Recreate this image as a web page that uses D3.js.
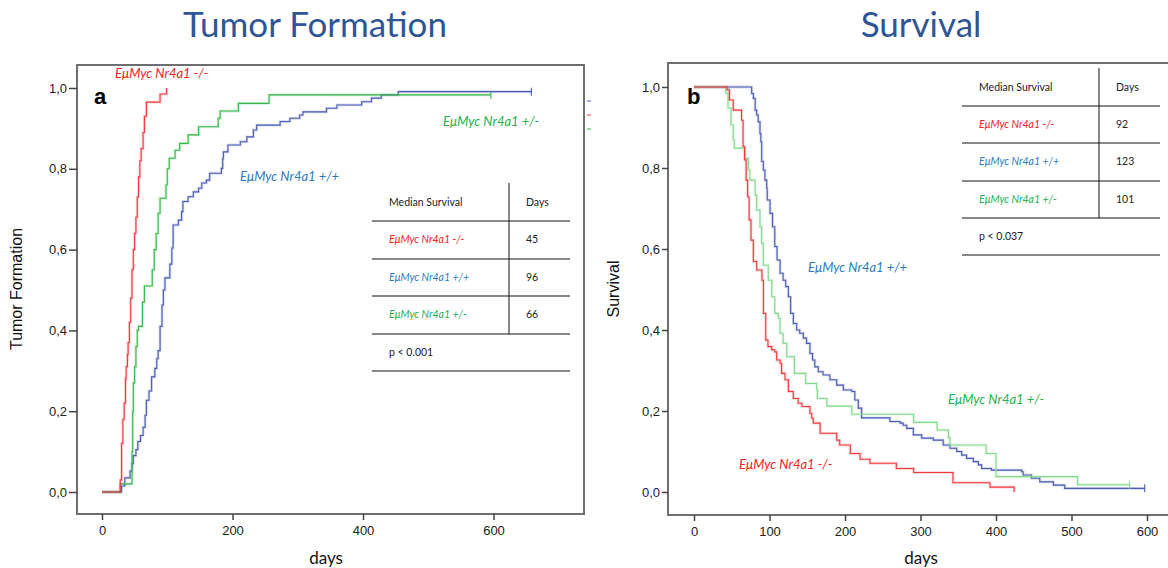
<!DOCTYPE html>
<html><head><meta charset="utf-8">
<script src="https://cdn.jsdelivr.net/npm/d3@7"></script>
<style>body{margin:0;background:#fff}svg{display:block}</style>
</head><body>
<script>
// ---------- data ----------
const genotypes = ["EμMyc Nr4a1 -/-", "EμMyc Nr4a1 +/+", "EμMyc Nr4a1 +/-"];
const tfMedians = [45, 96, 66];
const survMedians = [92, 123, 101];
const tfP = "p < 0.001";
const survP = "p < 0.037";
const yTicks = [0, 0.2, 0.4, 0.6, 0.8, 1.0];
const xTicksTF = [0, 200, 400, 600];
const xTicksSurv = [0, 100, 200, 300, 400, 500, 600];

// Tumor formation (cumulative incidence) step data: [day, value]
const tfRed = [[0,0],[28,0.03],[30,0.12],[32,0.18],[34,0.22],[36,0.28],[37,0.31],[39,0.34],[40,0.37],[42,0.42],[44,0.48],[46,0.55],[48,0.60],[50,0.64],[52,0.68],[54,0.73],[56,0.78],[58,0.82],[60,0.85],[63,0.89],[65,0.93],[68,0.965],[89,0.985],[99,1.0]];
const tfGreen = [[0,0],[28,0.02],[46,0.10],[47,0.20],[48,0.27],[50,0.31],[52,0.36],[54,0.40],[56,0.41],[62,0.47],[65,0.51],[77,0.55],[80,0.60],[83,0.64],[86,0.69],[89,0.727],[98,0.76],[100,0.80],[103,0.826],[112,0.846],[119,0.863],[132,0.884],[148,0.904],[178,0.925],[181,0.943],[209,0.962],[256,0.983],[596,0.983]];
const tfBlue = [[0,0],[30,0.015],[35,0.035],[43,0.052],[46,0.07],[48,0.09],[52,0.105],[55,0.125],[59,0.14],[63,0.16],[66,0.19],[68,0.227],[72,0.25],[76,0.285],[81,0.306],[84,0.33],[86,0.35],[89,0.41],[92,0.463],[94,0.5],[96.5,0.53],[104,0.564],[107,0.604],[109,0.661],[117,0.673],[122,0.694],[124,0.719],[132,0.731],[140,0.743],[148,0.752],[153,0.765],[160,0.772],[165,0.789],[183,0.801],[185,0.825],[186,0.842],[193,0.859],[212,0.867],[222,0.879],[232,0.896],[237,0.908],[273,0.917],[288,0.925],[303,0.933],[308,0.941],[344,0.95],[360,0.958],[398,0.966],[413,0.975],[428,0.983],[454,0.991],[658,0.991]];

// Survival step data: [day, value]
const survRed = [[0,1],[42,1],[44,0.993],[47,0.968],[52,0.943],[63,0.918],[65,0.853],[67,0.82],[69,0.77],[71,0.729],[73,0.672],[75.5,0.622],[78.6,0.569],[83,0.548],[90,0.523],[92,0.441],[95,0.375],[98,0.359],[103,0.351],[107,0.346],[109.5,0.326],[114,0.318],[116,0.293],[120.5,0.277],[125,0.248],[131.5,0.231],[138,0.219],[143,0.211],[153.6,0.194],[156,0.182],[158,0.17],[167,0.145],[189,0.128],[193,0.116],[207,0.095],[220,0.081],[233,0.071],[268,0.058],[291,0.048],[343,0.023],[392,0.012],[424,0]];
const survGreen = [[0,1],[42,0.985],[45,0.948],[49,0.906],[52,0.869],[53.4,0.849],[67.5,0.824],[72,0.795],[74,0.770],[81,0.733],[83,0.696],[87.4,0.655],[89.6,0.614],[91.8,0.560],[98.4,0.523],[103,0.482],[107,0.441],[111.7,0.429],[114,0.392],[118,0.367],[122.8,0.334],[133,0.293],[148,0.268],[162.5,0.252],[163.5,0.231],[176,0.212],[209,0.192],[291,0.172],[322,0.153],[337,0.135],[339,0.116],[387,0.095],[400,0.038],[508,0.018],[577,0.018]];
const survBlue = [[0,1],[74,1],[76.4,0.984],[78.6,0.972],[81,0.943],[83,0.931],[85,0.914],[87.4,0.885],[88.5,0.865],[89.7,0.816],[91.8,0.795],[94,0.770],[96.3,0.75],[97,0.721],[100.7,0.688],[104,0.655],[107,0.606],[110,0.573],[114,0.54],[118,0.523],[121.5,0.507],[125,0.482],[128,0.441],[131.6,0.416],[136,0.4],[140,0.392],[144.8,0.38],[149,0.367],[153.6,0.342],[157,0.326],[160,0.309],[164.6,0.297],[171,0.289],[180,0.277],[189,0.264],[197.8,0.252],[209,0.248],[213,0.227],[217.6,0.207],[222,0.183],[259.6,0.174],[273,0.17],[277,0.165],[281.7,0.157],[290.5,0.141],[301.6,0.133],[317,0.128],[330,0.116],[339,0.108],[348,0.1],[354.5,0.091],[361,0.083],[370,0.075],[376.6,0.067],[381,0.058],[394,0.054],[434,0.05],[436,0.042],[447,0.034],[458,0.025],[476,0.017],[491,0.009],[597,0.009]];

// ---------- styles ----------
const C = {
  title: "#2f5597",
  redLine: "#ee3a42", greenLine: "#35b84a", greenLineR: "#84d98c", blueLine: "#4b5bb4",
  redLab: "#f52222", greenLab: "#1fb050", blueLab: "#2e7ac2",
  frame: "#6e6e6e"
};
const sansA = "'Liberation Sans', Arial, sans-serif";
const sansC = "Lato, 'Open Sans', sans-serif";

const W = 1168, H = 568;
const svg = d3.select("body").append("svg").attr("width", W).attr("height", H);

function panel(o) {
  const g = svg.append("g");
  const x = d3.scaleLinear().domain([0, 600]).range(o.xr);
  const y = d3.scaleLinear().domain([0, 1]).range(o.yr);
  // frame
  g.append("rect").attr("x", o.frame[0]).attr("y", o.frame[1])
    .attr("width", o.frame[2] - o.frame[0]).attr("height", o.frame[3] - o.frame[1])
    .attr("fill", "none").attr("stroke", C.frame).attr("stroke-width", 2);
  // y axis
  const ya = g.append("g").attr("transform", `translate(${o.frame[0]},0)`)
    .call(d3.axisLeft(y).tickValues(yTicks).tickSize(o.ytick).tickPadding(2)
      .tickFormat(d => d3.format(".1f")(d).replace(".", ",")));
  ya.select(".domain").remove();
  ya.selectAll("text").attr("font-family", sansA).attr("font-size", 13).attr("fill", "#222");
  ya.selectAll("line").attr("stroke", "#444").attr("stroke-width", 1.5);
  // x axis
  const xa = g.append("g").attr("transform", `translate(0,${o.frame[3]})`)
    .call(d3.axisBottom(x).tickValues(o.xticks).tickSize(6).tickPadding(6).tickFormat(d3.format("d")));
  xa.select(".domain").remove();
  xa.selectAll("text").attr("font-family", sansA).attr("font-size", 13).attr("fill", "#222");
  xa.selectAll("line").attr("stroke", "#444").attr("stroke-width", 1.5);
  // axis titles
  g.append("text").attr("transform", `translate(${o.ytitleX},289) rotate(-90)`)
    .attr("text-anchor", "middle").attr("dominant-baseline", "middle")
    .attr("font-family", sansA).attr("font-size", 16).attr("fill", "#111").text(o.ytitle);
  g.append("text").attr("x", o.daysX).attr("y", 564).attr("text-anchor", "middle")
    .attr("font-family", sansC).attr("font-size", 17).attr("fill", "#111").text("days");
  // big title
  svg.append("text").attr("x", o.titleX).attr("y", 37).attr("text-anchor", "middle")
    .attr("font-family", sansC).attr("font-size", 35).attr("fill", C.title).text(o.title);
  // panel letter
  g.append("text").attr("x", o.letterX).attr("y", 104).attr("font-family", sansA)
    .attr("font-weight", "bold").attr("font-size", 22).attr("fill", "#000").text(o.letter);
  // curves
  const line = d3.line().x(d => x(d[0])).y(d => y(d[1])).curve(d3.curveStepAfter);
  o.series.forEach(s => {
    g.append("path").attr("d", line(s.data)).attr("fill", "none")
      .attr("stroke", s.color).attr("stroke-opacity", 0.22).attr("stroke-width", 2.8);
    g.append("path").attr("d", line(s.data)).attr("fill", "none")
      .attr("stroke", s.color).attr("stroke-width", 1.1);
    if (s.censor) {
      const last = s.data[s.data.length - 1];
      g.append("line").attr("x1", x(last[0])).attr("x2", x(last[0]))
        .attr("y1", y(last[1]) - 4).attr("y2", y(last[1]) + 4)
        .attr("stroke", s.color).attr("stroke-width", 1.1);
    }
  });
  // curve labels
  o.labels.forEach(l => {
    g.append("text").attr("x", l.x).attr("y", l.y).attr("font-family", sansC)
      .attr("font-style", "italic").attr("font-size", 13).attr("fill", l.color).text(l.t);
  });
  // table
  const t = o.table;
  const tg = g.append("g").attr("font-family", sansC).attr("font-size", 10.5);
  t.lines.forEach(ly => tg.append("line").attr("x1", t.left).attr("x2", t.right)
    .attr("y1", ly).attr("y2", ly).attr("stroke", "#111").attr("stroke-width", 1));
  tg.append("line").attr("x1", t.vx).attr("x2", t.vx).attr("y1", t.vtop).attr("y2", t.lines[3])
    .attr("stroke", "#111").attr("stroke-width", 1);
  const rowY = [t.headerY].concat(t.lines.slice(0, 4).map(v => v + 19));
  tg.append("text").attr("x", t.left + 17).attr("y", rowY[0]).attr("dominant-baseline", "middle").attr("fill", "#222").text("Median Survival");
  tg.append("text").attr("x", t.vx + 17).attr("y", rowY[0]).attr("dominant-baseline", "middle").attr("fill", "#222").text("Days");
  const labCols = [C.redLab, C.blueLab, C.greenLab];
  genotypes.forEach((gname, i) => {
    tg.append("text").attr("x", t.left + 17).attr("y", rowY[i + 1]).attr("dominant-baseline", "middle")
      .attr("font-style", "italic").attr("fill", labCols[i]).text(gname);
    tg.append("text").attr("x", t.vx + 17).attr("y", rowY[i + 1]).attr("dominant-baseline", "middle")
      .attr("fill", "#222").text(t.meds[i]);
  });
  tg.append("text").attr("x", t.left + 17).attr("y", rowY[4]).attr("dominant-baseline", "middle")
    .attr("fill", "#222").text(t.p);
  return g;
}

panel({
  xr: [102, 493.5], yr: [492, 88], frame: [77, 65, 584, 514], ytick: 8, xticks: xTicksTF,
  ytitle: "Tumor Formation", ytitleX: 18, daysX: 326, title: "Tumor Formation", titleX: 315,
  letter: "a", letterX: 94,
  series: [
    {data: tfBlue, color: C.blueLine, censor: true},
    {data: tfGreen, color: C.greenLine, censor: true},
    {data: tfRed, color: C.redLine}
  ],
  labels: [
    {t: genotypes[0], x: 115, y: 78, color: C.redLab},
    {t: genotypes[2], x: 443, y: 126, color: C.greenLab},
    {t: genotypes[1], x: 240, y: 181, color: C.blueLab}
  ],
  table: {left: 372, right: 570, vx: 509, vtop: 183, headerY: 203, lines: [221, 259, 296, 334, 371],
    meds: tfMedians, p: tfP}
});

// small legend fragments at right of panel a
[[101, C.blueLine], [115, C.redLine], [129, C.greenLine]].forEach(d => {
  svg.append("line").attr("x1", 587).attr("x2", 591).attr("y1", d[0]).attr("y2", d[0])
    .attr("stroke", d[1]).attr("stroke-width", 1);
});

panel({
  xr: [694, 1147], yr: [492, 87], frame: [668, 63, 1172, 515], ytick: 6, xticks: xTicksSurv,
  ytitle: "Survival", ytitleX: 615, daysX: 921, title: "Survival", titleX: 921,
  letter: "b", letterX: 687,
  series: [
    {data: survBlue, color: C.blueLine, censor: true},
    {data: survGreen, color: C.greenLineR, censor: true},
    {data: survRed, color: C.redLine}
  ],
  labels: [
    {t: genotypes[1], x: 808, y: 272, color: C.blueLab},
    {t: genotypes[2], x: 948, y: 404, color: C.greenLab},
    {t: genotypes[0], x: 739, y: 469, color: C.redLab}
  ],
  table: {left: 962, right: 1160, vx: 1099, vtop: 68, headerY: 88, lines: [106, 143, 181, 218, 255],
    meds: survMedians, p: survP}
});
</script>
</body></html>
